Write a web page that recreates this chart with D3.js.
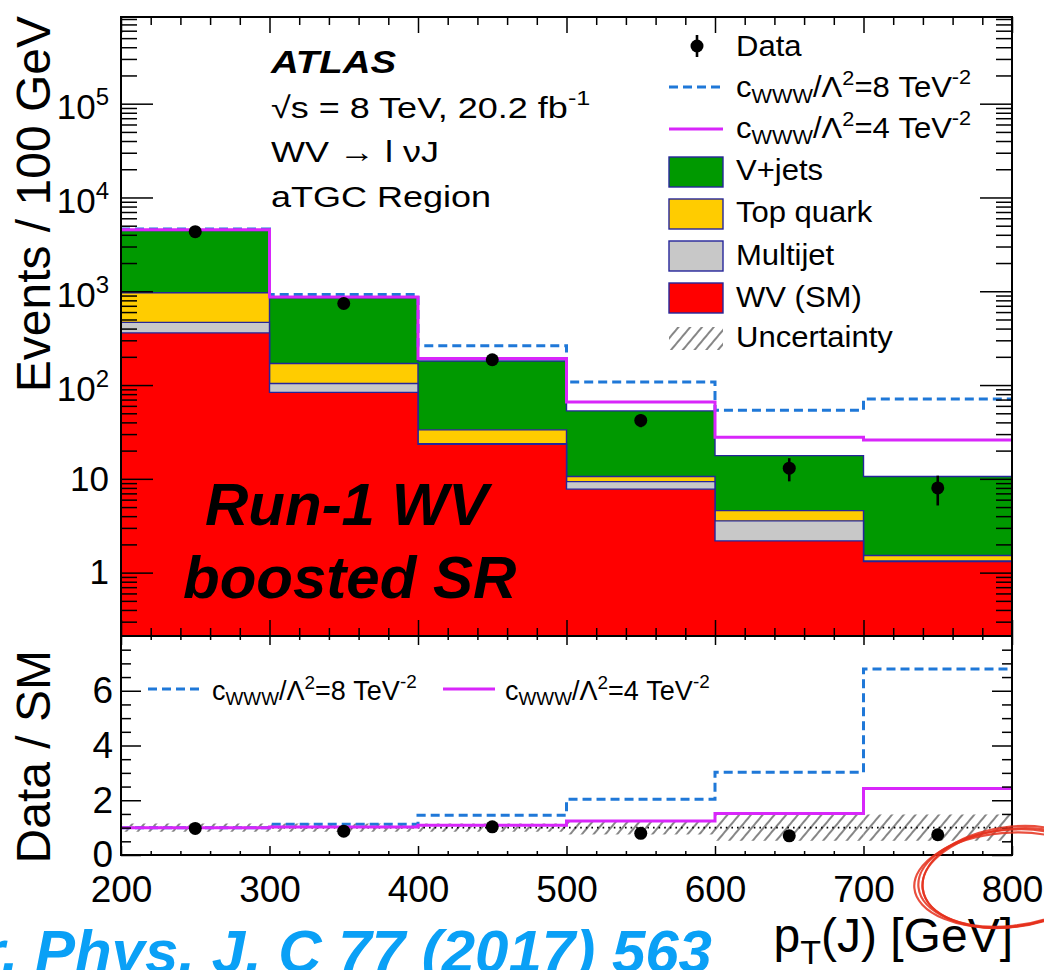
<!DOCTYPE html>
<html>
<head>
<meta charset="utf-8">
<script src="https://cdn.jsdelivr.net/npm/d3@7"></script>
<style>
  body { margin: 0; background: #fff; }
  svg { display: block; font-family: "Liberation Sans", Arial, Helvetica, sans-serif; }
</style>
</head>
<body>
<svg id="chart" width="1044" height="970"></svg>
<script>
// ---- data: leading-jet pT spectrum, 100 GeV bins ----
const binEdges   = [200, 300, 400, 500, 600, 700, 800];
const wvSM       = [360, 83.5, 23.4, 7.76, 2.18, 1.31];
const multijet   = [106, 20.5, 0.3, 1.59, 1.38, 0.02];
const topQuark   = [498, 66, 9.6, 1.25, 1.02, 0.19];
const vJets      = [3486, 683, 147, 42.4, 13.1, 9.08];
const dataCounts = [4320, 740, 186, 42, 13, 8];
const dataErrLo  = [66, 27, 14, 6.5, 3.6, 2.8];
const dataErrHi  = [66, 27, 14, 6.5, 3.6, 2.8];
const cwww8      = [4600, 926, 262, 108, 54, 71];
const cwww4      = [4540, 870, 192, 66, 27.7, 25.9];
// ratio panel (relative to SM expectation)
const ratioData  = [0.97, 0.87, 1.03, 0.79, 0.70, 0.74];
const ratioCwww8 = [1.0, 1.12, 1.45, 2.04, 3.02, 6.79];
const ratioCwww4 = [1.0, 1.02, 1.09, 1.24, 1.52, 2.43];
const ratioUnc   = [0.15, 0.15, 0.15, 0.25, 0.48, 0.48];
// axis tick labels
const xTickLabels = [200, 300, 400, 500, 600, 700, 800];
const yLogTicks   = [1, 10, 100, 1000, 10000, 100000];
const ratioTicks  = [0, 2, 4, 6];

const FONT = '"Liberation Sans", Arial, Helvetica, sans-serif';
const svg = d3.select("#chart");

const L = 121, R = 1012, T = 17, MB = 636, RB = 855;
const x  = d3.scaleLinear().domain([200, 800]).range([L, R]);
const y  = d3.scaleLog().domain([0.211, 8.4e5]).range([MB, T]).clamp(true);
const yr = d3.scaleLinear().domain([0, 8]).range([RB, MB]);

const defs = svg.append("defs");
defs.append("clipPath").attr("id", "clipMain")
  .append("rect").attr("x", L).attr("y", T).attr("width", R - L).attr("height", MB - T);
defs.append("clipPath").attr("id", "clipRatio")
  .append("rect").attr("x", L).attr("y", MB).attr("width", R - L).attr("height", RB - MB);
const hatch = defs.append("pattern").attr("id", "hatch")
  .attr("patternUnits", "userSpaceOnUse").attr("width", 9).attr("height", 9)
  .attr("patternTransform", "rotate(40)");
hatch.append("line").attr("x1", 1).attr("y1", 0).attr("x2", 1).attr("y2", 9)
  .attr("stroke", "#444").attr("stroke-width", 1.3);

const binRows = binEdges.slice(0, -1).map((lo, i) => ({
  lo, hi: binEdges[i + 1],
  wv: wvSM[i], mj: multijet[i], top: topQuark[i], vj: vJets[i]
}));
const stepPts = vals => vals.flatMap((v, i) => [[binEdges[i], v], [binEdges[i + 1], v]]);

// ---- main panel: stacked backgrounds ----
const main = svg.append("g").attr("clip-path", "url(#clipMain)");
const keys = ["wv", "mj", "top", "vj"];
const fills = { wv: "#ff0000", mj: "#c8c8c8", top: "#ffcc00", vj: "#009900" };
const stacked = d3.stack().keys(keys)(binRows);
const stackArea = d3.area().x(p => x(p[0])).y0(MB).y1(p => y(p[1]));
stacked.slice().reverse().forEach(s => {
  const pts = s.flatMap(d => [[d.data.lo, d[1]], [d.data.hi, d[1]]]);
  main.append("path").attr("d", stackArea(pts))
    .attr("fill", fills[s.key]).attr("stroke", "#25259a").attr("stroke-width", 1.4);
});

const stepLine = yy => d3.line().x(p => x(p[0])).y(p => yy(p[1]));
main.append("path").attr("d", stepLine(y)(stepPts(cwww8)))
  .attr("fill", "none").attr("stroke", "#1f78d8").attr("stroke-width", 3).attr("stroke-dasharray", "9,5");
main.append("path").attr("d", stepLine(y)(stepPts(cwww4)))
  .attr("fill", "none").attr("stroke", "#d826fa").attr("stroke-width", 3);

const centers = binRows.map(d => (d.lo + d.hi) / 2);
const dataG = main.append("g");
dataCounts.forEach((v, i) => {
  dataG.append("line").attr("x1", x(centers[i])).attr("x2", x(centers[i]))
    .attr("y1", y(v + dataErrHi[i])).attr("y2", y(v - dataErrLo[i]))
    .attr("stroke", "#000").attr("stroke-width", 2.6);
  dataG.append("circle").attr("cx", x(centers[i])).attr("cy", y(v)).attr("r", 6.5).attr("fill", "#000");
});

// ---- ratio panel ----
const ratio = svg.append("g").attr("clip-path", "url(#clipRatio)");
ratioUnc.forEach((u, i) => {
  ratio.append("rect").attr("x", x(binEdges[i])).attr("width", x(binEdges[i + 1]) - x(binEdges[i]))
    .attr("y", yr(1 + u)).attr("height", yr(1 - u) - yr(1 + u)).attr("fill", "url(#hatch)");
});
ratio.append("line").attr("x1", L).attr("x2", R).attr("y1", yr(1)).attr("y2", yr(1))
  .attr("stroke", "#000").attr("stroke-width", 1.6).attr("stroke-dasharray", "1.6,4");
ratio.append("path").attr("d", stepLine(yr)(stepPts(ratioCwww8)))
  .attr("fill", "none").attr("stroke", "#1f78d8").attr("stroke-width", 3).attr("stroke-dasharray", "9,5");
ratio.append("path").attr("d", stepLine(yr)(stepPts(ratioCwww4)))
  .attr("fill", "none").attr("stroke", "#d826fa").attr("stroke-width", 3);
ratioData.forEach((v, i) => {
  ratio.append("circle").attr("cx", x(centers[i])).attr("cy", yr(v)).attr("r", 6.5).attr("fill", "#000");
});

// ---- frames and ticks ----
svg.append("rect").attr("x", L).attr("y", T).attr("width", R - L).attr("height", MB - T)
  .attr("fill", "none").attr("stroke", "#000").attr("stroke-width", 2);
svg.append("rect").attr("x", L).attr("y", MB).attr("width", R - L).attr("height", RB - MB)
  .attr("fill", "none").attr("stroke", "#000").attr("stroke-width", 2);

function drawAxis(tx, ty, axis) {
  const g = svg.append("g").attr("transform", `translate(${tx},${ty})`).call(axis);
  g.select(".domain").remove();
  g.selectAll(".tick line").attr("stroke", "#000").attr("stroke-width", 1.5);
  g.attr("font-family", FONT).attr("font-size", null);
  g.selectAll("text").attr("fill", "#000");
  return g;
}
const xMinor = d3.range(200, 801, 20).filter(v => v % 100 !== 0);
const none = () => "";
// main x ticks (top and bottom, pointing inward)
drawAxis(0, T, d3.axisTop(x).tickValues(xTickLabels).tickSize(-16).tickFormat(none));
drawAxis(0, T, d3.axisTop(x).tickValues(xMinor).tickSize(-8).tickFormat(none));
drawAxis(0, MB, d3.axisBottom(x).tickValues(xTickLabels).tickSize(-16).tickFormat(none));
drawAxis(0, MB, d3.axisBottom(x).tickValues(xMinor).tickSize(-8).tickFormat(none));
// main log y ticks
const logMinor = [];
for (let e = -1; e <= 5; e++) for (let k = 2; k <= 9; k++) {
  const v = k * Math.pow(10, e);
  if (v > y.domain()[0] && v < y.domain()[1]) logMinor.push(v);
}
const yLab = drawAxis(L, 0, d3.axisLeft(y).tickValues(yLogTicks).tickSize(-32).tickPadding(12)
  .tickFormat(d => d >= 100 ? "10" : String(d)));
yLab.selectAll("text").attr("font-size", 35).each(function (d) {
  if (d >= 100) {
    const t = d3.select(this).attr("dy", "0.43em");
    t.append("tspan").attr("font-size", 24).attr("dy", -14).text(Math.round(Math.log10(d)));
  }
});
drawAxis(L, 0, d3.axisLeft(y).tickValues(logMinor).tickSize(-16).tickFormat(none));
drawAxis(R, 0, d3.axisRight(y).tickValues(yLogTicks).tickSize(-32).tickFormat(none));
drawAxis(R, 0, d3.axisRight(y).tickValues(logMinor).tickSize(-16).tickFormat(none));
// ratio ticks
drawAxis(0, MB, d3.axisTop(x).tickValues(xTickLabels).tickSize(-9).tickFormat(none));
drawAxis(0, MB, d3.axisTop(x).tickValues(xMinor).tickSize(-4).tickFormat(none));
const xLab = drawAxis(0, RB, d3.axisBottom(x).tickValues(xTickLabels).tickSize(-9).tickPadding(21));
xLab.selectAll("text").attr("font-size", 37);
drawAxis(0, RB, d3.axisBottom(x).tickValues(xMinor).tickSize(-4).tickFormat(none));
const rMinor = d3.range(0.5, 8, 0.5).filter(v => v % 2 !== 0);
const rLab = drawAxis(L, 0, d3.axisLeft(yr).tickValues(ratioTicks).tickSize(-20).tickPadding(8));
rLab.selectAll("text").attr("font-size", 37);
drawAxis(L, 0, d3.axisLeft(yr).tickValues(rMinor).tickSize(-10).tickFormat(none));
drawAxis(R, 0, d3.axisRight(yr).tickValues(ratioTicks).tickSize(-20).tickFormat(none));
drawAxis(R, 0, d3.axisRight(yr).tickValues(rMinor).tickSize(-10).tickFormat(none));

// ---- axis titles ----
svg.append("g").attr("transform", "translate(50,16) rotate(-90)")
  .append("text").attr("text-anchor", "end").attr("font-size", 48).attr("fill", "#000")
  .text("Events / 100 GeV");
svg.append("g").attr("transform", "translate(50,650) rotate(-90)")
  .append("text").attr("text-anchor", "end").attr("font-size", 48).attr("fill", "#000")
  .text("Data / SM");
const xt = svg.append("text").attr("x", 1013).attr("y", 952).attr("text-anchor", "end")
  .attr("font-size", 48).attr("fill", "#000");
xt.append("tspan").text("p");
xt.append("tspan").attr("font-size", 34).attr("dy", 12).text("T");
xt.append("tspan").attr("dy", -12).text("(J) [GeV]");

// ---- ATLAS label block ----
const atl = svg.append("g").attr("transform", "translate(271,0) scale(1.2,1)");
atl.append("text").attr("x", 0).attr("y", 73).attr("font-size", 32).attr("font-weight", "bold")
  .attr("font-style", "italic").text("ATLAS");
const sq = atl.append("text").attr("x", 0).attr("y", 118).attr("font-size", 30);
sq.append("tspan").text("√s = 8 TeV, 20.2 fb");
sq.append("tspan").attr("font-size", 21).attr("dy", -13).text("-1");
atl.append("text").attr("x", 0).attr("y", 162).attr("font-size", 30).text("WV → l νJ");
atl.append("text").attr("x", 0).attr("y", 207).attr("font-size", 30).text("aTGC Region");

// c_WWW / Lambda^2 label with sub/superscripts
function cLabel(g, xx, yy, fs, val) {
  const t = g.append("text").attr("x", xx).attr("y", yy).attr("font-size", fs).attr("fill", "#000");
  const s = fs * 0.7;
  t.append("tspan").text("c");
  t.append("tspan").attr("font-size", s).attr("dy", fs * 0.2).text("WWW");
  t.append("tspan").attr("dy", -fs * 0.2).text("/Λ");
  t.append("tspan").attr("font-size", s).attr("dy", -fs * 0.42).text("2");
  t.append("tspan").attr("dy", fs * 0.42).text(`=${val} TeV`);
  t.append("tspan").attr("font-size", s).attr("dy", -fs * 0.45).text("-2");
  return t;
}

// ---- main legend ----
const leg = svg.append("g");
leg.append("line").attr("x1", 697).attr("x2", 697).attr("y1", 35).attr("y2", 57)
  .attr("stroke", "#000").attr("stroke-width", 2.6);
leg.append("circle").attr("cx", 697).attr("cy", 46).attr("r", 6.5).attr("fill", "#000");
leg.append("line").attr("x1", 669).attr("x2", 723).attr("y1", 87).attr("y2", 87)
  .attr("stroke", "#1f78d8").attr("stroke-width", 3).attr("stroke-dasharray", "9,5");
leg.append("line").attr("x1", 669).attr("x2", 723).attr("y1", 129).attr("y2", 129)
  .attr("stroke", "#d826fa").attr("stroke-width", 3);
const boxes = [["vj", 157], ["top", 199], ["mj", 241], ["wv", 283]];
boxes.forEach(([k, yy]) => {
  leg.append("rect").attr("x", 669).attr("y", yy).attr("width", 54).attr("height", 30)
    .attr("fill", fills[k]).attr("stroke", "#25259a").attr("stroke-width", 1.4);
});
leg.append("rect").attr("x", 669).attr("y", 327).attr("width", 54).attr("height", 23).attr("fill", "url(#hatch)");
const legT = leg.append("g").attr("transform", "translate(736,0) scale(1.07,1)");
const legText = (yy, s) => legT.append("text").attr("x", 0).attr("y", yy).attr("font-size", 29).text(s);
legText(56, "Data");
cLabel(legT, 0, 97, 29, 8);
cLabel(legT, 0, 138, 29, 4);
legText(180, "V+jets");
legText(222, "Top quark");
legText(265, "Multijet");
legText(307, "WV (SM)");
legText(347, "Uncertainty");

// ---- ratio legend ----
svg.append("line").attr("x1", 148).attr("x2", 200).attr("y1", 689).attr("y2", 689)
  .attr("stroke", "#1f78d8").attr("stroke-width", 3).attr("stroke-dasharray", "9,5");
cLabel(svg, 212, 700, 27, 8);
svg.append("line").attr("x1", 443).attr("x2", 495).attr("y1", 689).attr("y2", 689)
  .attr("stroke", "#d826fa").attr("stroke-width", 3);
cLabel(svg, 505, 700, 27, 4);

// ---- overlay annotations ----
svg.append("text").attr("x", 205).attr("y", 525).attr("font-size", 60).attr("font-weight", "bold")
  .attr("font-style", "italic").attr("fill", "#000").text("Run-1 WV");
svg.append("text").attr("x", 183).attr("y", 598).attr("font-size", 60).attr("font-weight", "bold")
  .attr("font-style", "italic").attr("fill", "#000").text("boosted SR");
svg.append("text").attr("x", 712).attr("y", 972).attr("text-anchor", "end").attr("font-size", 60)
  .attr("font-weight", "bold").attr("font-style", "italic").attr("fill", "#0aa0f6")
  .text("Eur. Phys. J. C 77 (2017) 563");

// hand-drawn circle around the last tick label
const ring = svg.append("g").attr("fill", "none").attr("stroke", "#e5301c").attr("stroke-opacity", 0.85);
[[1008, 878, 90, 48, -6], [1010, 877, 88, 50, -8], [1006, 880, 92, 47, -5], [1011, 878, 89, 49, -7]]
  .forEach(([cx, cy, rx, ry, rot]) => {
    ring.append("ellipse").attr("cx", cx).attr("cy", cy).attr("rx", rx).attr("ry", ry)
      .attr("transform", `rotate(${rot},${cx},${cy})`).attr("stroke-width", 2.2);
  });
</script>
</body>
</html>
